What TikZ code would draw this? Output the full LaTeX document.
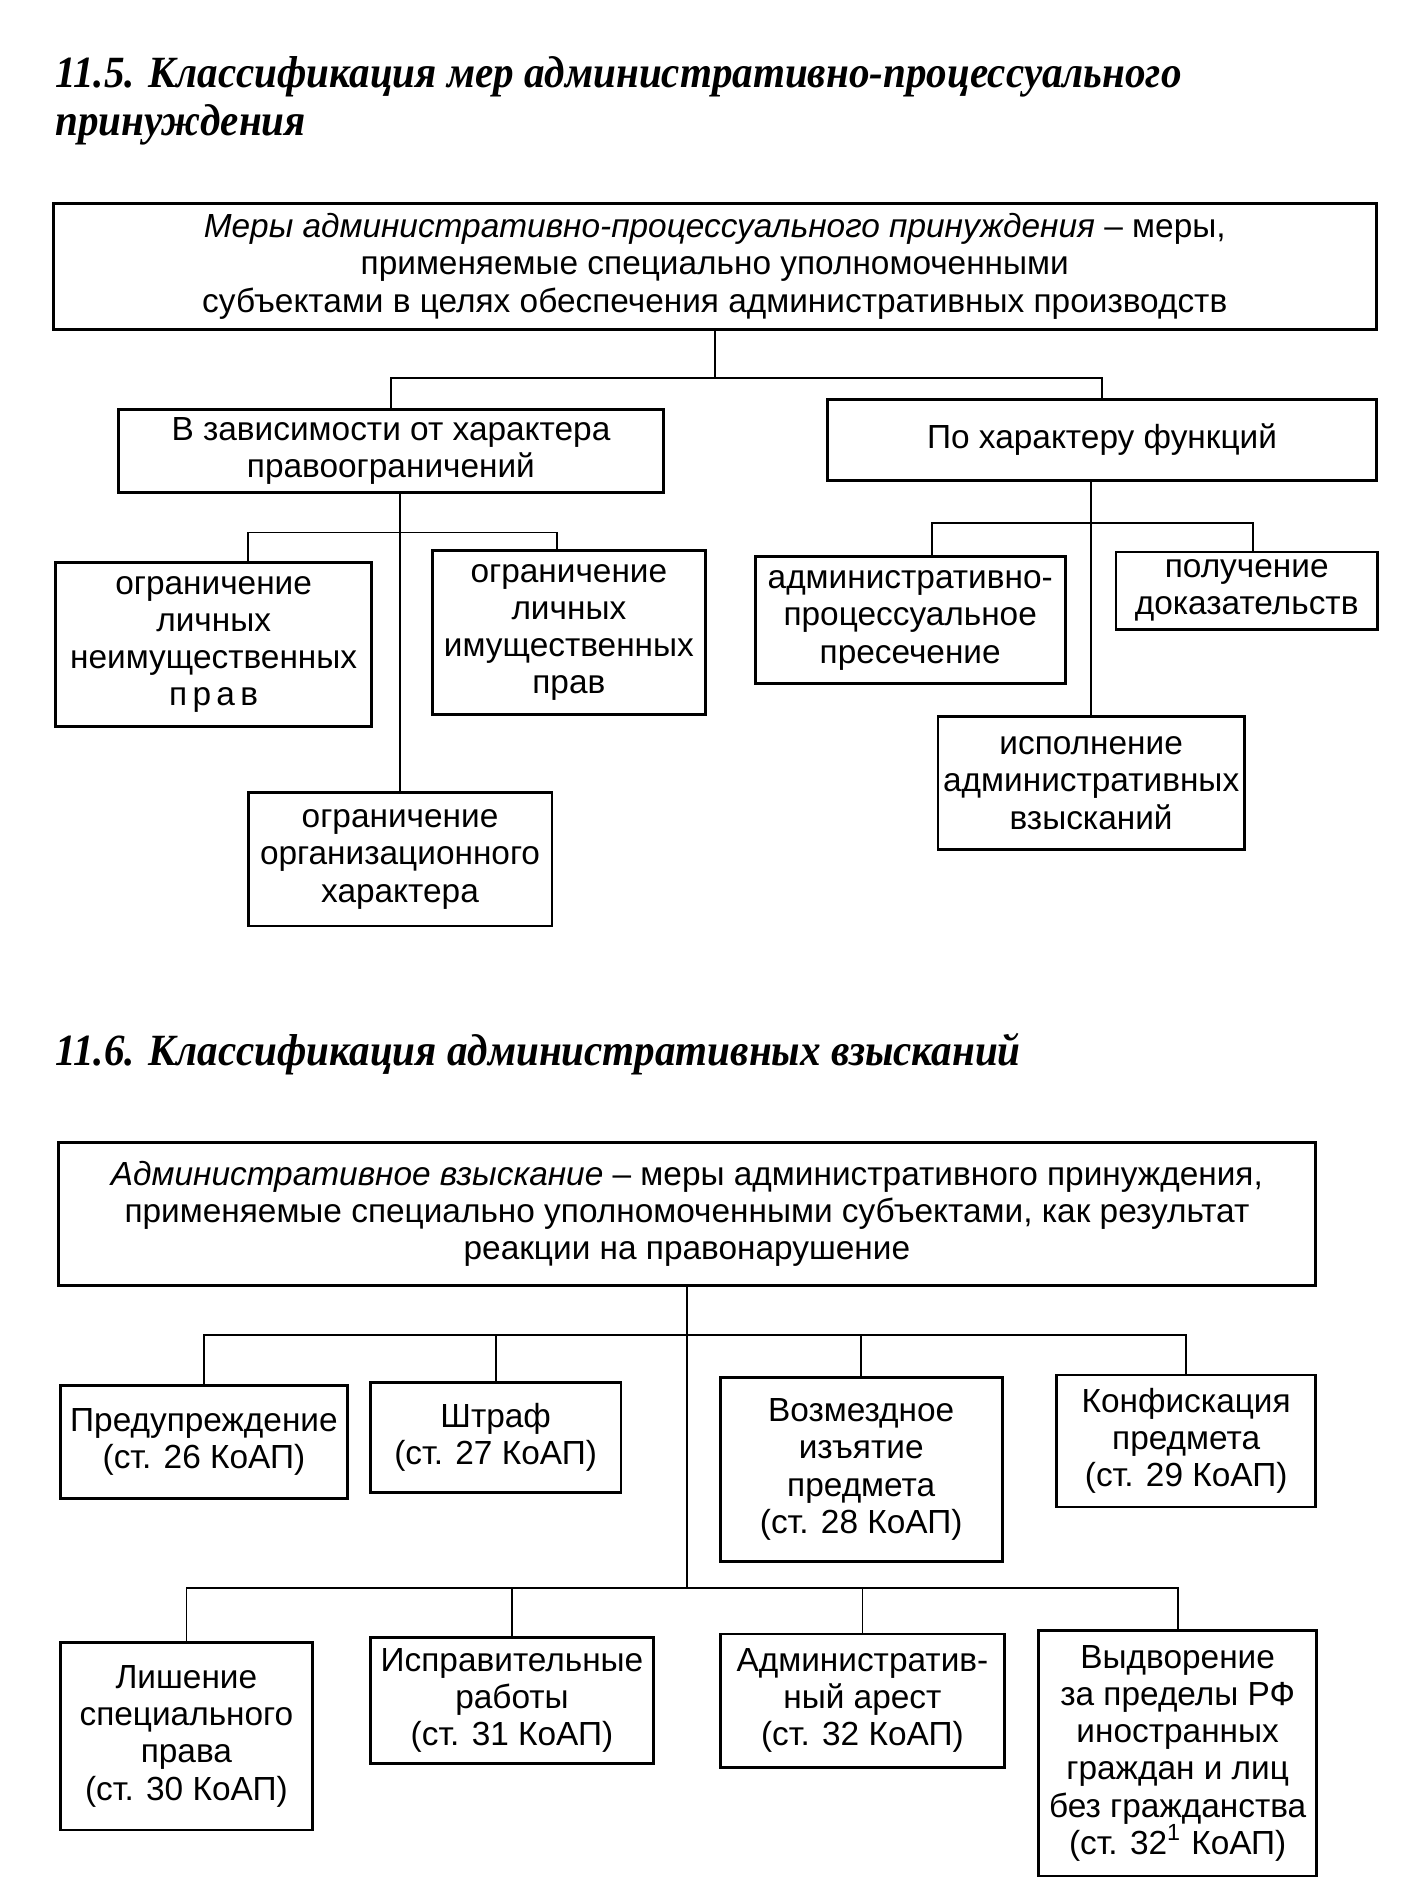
\documentclass[tikz,border=0pt]{standalone}
\usepackage{fontspec}
\setmainfont{Liberation Sans}
\newfontfamily\titlefont[FakeStretch=0.92]{Liberation Serif}
\newcommand{\boxfont}{\fontsize{9.5}{10.6}\selectfont}
\newcommand{\headfont}{\titlefont\bfseries\itshape\fontsize{12.7}{15}\selectfont}
\tikzset{
  box/.style   = {draw, line width=0.8pt, align=center, inner sep=1pt, font=\boxfont},
  sz/.style 2 args = {minimum width=#1*0.121mm, minimum height=#2*0.121mm},
  link/.style  = {line width=0.5pt},
  head/.style  = {anchor=base west, inner sep=0pt, font=\headfont}
}
\begin{document}
\begin{tikzpicture}[x=0.121mm, y=-0.121mm]
    \path[fill=white] (0,0) rectangle (1160,1564);
    % headings
    \node[head] (head115a) at (45,72)  {11.5. Классификация мер административно-процессуального};
    \node[head] (head115b) at (45,112) {принуждения};
    \node[head] (head116)  at (45,880) {11.6. Классификация административных взысканий};
    % boxes for 11.5
    \node[box, sz={1093}{104}] (measures)    at (590.5,220)  {\textit{Меры административно-процессуального принуждения} – меры,\\применяемые специально уполномоченными\\субъектами в целях обеспечения административных производств};
    \node[box, sz={450}{69}]   (byrestrict)  at (323,372.5)  {В зависимости от характера\\правоограничений};
    \node[box, sz={453}{67}]   (byfunction)  at (910.5,363.5) {По характеру функций};
    \node[box, sz={261}{135}]  (nonproperty) at (176.5,532.5) {ограничение\\личных\\неимущественных\\п\kern1.5pt р\kern1.5pt а\kern1.5pt в};
    \node[box, sz={226}{135}]  (property)    at (470,522.5)  {ограничение\\личных\\имущественных\\прав};
    \node[box, sz={251}{110}]  (organiz)     at (330.5,710)  {ограничение\\организационного\\характера};
    \node[box, sz={256}{105}]  (suppression) at (752,512.5)  {административно-\\процессуальное\\пресечение};
    \node[box, sz={216}{64}]   (evidence)    at (1030,488)   {получение\\доказательств};
    \node[box, sz={253}{110}]  (execution)   at (901.5,647)  {исполнение\\административных\\взысканий};
    % coordinates for the branches of 11.5
    \coordinate (jtop)   at (590.5,312);
    \coordinate (jleftL) at (205,440);
    \coordinate (jleftR) at (460,440);
    \coordinate (jrgtL)  at (770,432);
    \coordinate (jrgtR)  at (1035,432);
    \draw[link] (measures.south) -- (jtop);
    \draw[link] (byrestrict.north) |- (jtop) -| (byfunction.north);
    \draw[link] (organiz.north |- byrestrict.south) -- (organiz.north);
    \draw[link] (jleftL |- nonproperty.north) -- (jleftL) -- (jleftR) -- (jleftR |- property.north);
    \draw[link] (execution.north |- byfunction.south) -- (execution.north);
    \draw[link] (jrgtL |- suppression.north) -- (jrgtL) -- (jrgtR) -- (jrgtR |- evidence.north);
    % boxes for 11.6
    \node[box, sz={1039}{118}] (penalty)    at (567.5,1003)  {\textit{Административное взыскание} – меры административного принуждения,\\применяемые специально уполномоченными субъектами, как результат\\реакции на правонарушение};
    \node[box, sz={237}{93}]   (warning)    at (168.5,1191.5) {Предупреждение\\(ст. 26 КоАП)};
    \node[box, sz={207}{91}]   (fine)       at (409.5,1187.5) {Штраф\\(ст. 27 КоАП)};
    \node[box, sz={233}{152}]  (seizure)    at (711.5,1214)  {Возмездное\\изъятие\\предмета\\(ст. 28 КоАП)};
    \node[box, sz={214}{109}]  (confisc)    at (980,1190.5)  {Конфискация\\предмета\\(ст. 29 КоАП)};
    \node[box, sz={208}{155}]  (deprive)    at (154,1434.5)  {Лишение\\специального\\права\\(ст. 30 КоАП)};
    \node[box, sz={234}{104}]  (corrective) at (423,1405)    {Исправительные\\работы\\(ст. 31 КоАП)};
    \node[box, sz={235}{110}]  (arrest)     at (712.5,1405)  {Административ-\\ный арест\\(ст. 32 КоАП)};
    \node[box, sz={230}{203}]  (expulsion)  at (973,1448.5)  {Выдворение\\за пределы РФ\\иностранных\\граждан и лиц\\без гражданства\\(ст. 32\textsuperscript{1} КоАП)};
    % coordinates for the branches of 11.6
    \coordinate (jup)  at (567.5,1103);
    \coordinate (jlow) at (567.5,1312);
    \draw[link] (penalty.south) -- (jlow);
    \draw[link] (warning.north) |- (jup) -| (confisc.north);
    \draw[link] (fine.north) -- (fine.north |- jup);
    \draw[link] (seizure.north) -- (seizure.north |- jup);
    \draw[link] (deprive.north) |- (jlow) -| (expulsion.north);
    \draw[link] (corrective.north) -- (corrective.north |- jlow);
    \draw[link] (arrest.north) -- (arrest.north |- jlow);
\end{tikzpicture}
\end{document}
